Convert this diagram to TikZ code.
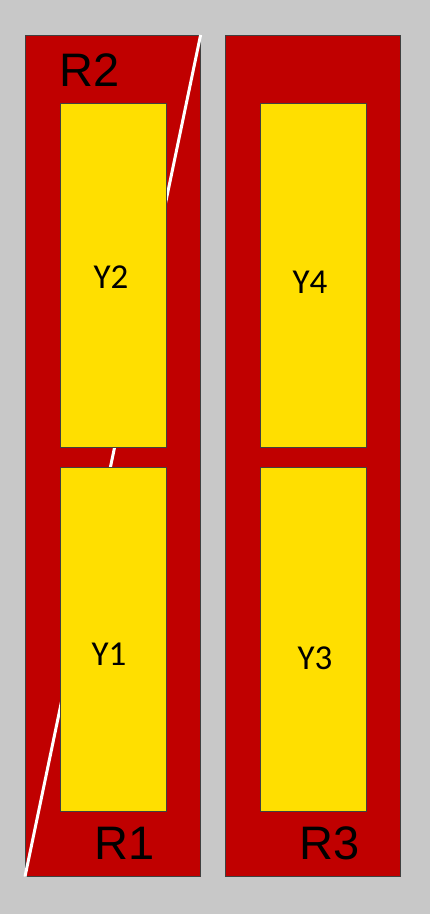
\documentclass[tikz,border=0pt]{standalone}
\usepackage{fontspec}
\setmainfont{Liberation Sans}
\newfontfamily\yfont{Carlito}
\definecolor{bggray}{HTML}{C8C8C8}
\definecolor{rred}{HTML}{C00000}
\definecolor{yyel}{HTML}{FFDF00}
\definecolor{edge}{HTML}{404040}
\begin{document}
\begin{tikzpicture}[x=1pt,y=-1pt,
  redbox/.style={draw=edge, line width=0.6pt, fill=rred, inner sep=0pt, minimum width=175pt, minimum height=841pt, anchor=north west},
  yelbox/.style={draw=edge, line width=0.6pt, fill=yyel, inner sep=0pt, minimum width=106pt, minimum height=344pt, anchor=north west},
  rlabel/.style={inner sep=0pt, font=\fontsize{47}{47}\selectfont},
  ylabel/.style={inner sep=0pt, font=\yfont\fontsize{35}{35}\selectfont},
  cut/.style={draw=white, line width=3pt}
]
\fill[bggray] (0,0) rectangle (430,914);
\useasboundingbox (0,0) rectangle (430,914);
\node[redbox] (L) at (25,35) {};
\node[redbox] (R) at (225,35) {};
\draw[cut] (L.south west) -- (L.north east);
\node[yelbox] (Y2) at (60,103) {};
\node[yelbox] (Y1) at (60,467) {};
\node[yelbox] (Y4) at (260,103) {};
\node[yelbox] (Y3) at (260,467) {};
\node[rlabel] (R2t) at (90,70) {R2};
\node[rlabel] (R1t) at (125,843.5) {R1};
\node[rlabel] (R3t) at (330,843.5) {R3};
\node[ylabel] (Y2t) at (111,277) {Y2};
\node[ylabel] (Y1t) at (109,654) {Y1};
\node[ylabel] (Y4t) at (310,282) {Y4};
\node[ylabel] (Y3t) at (315,658) {Y3};
\end{tikzpicture}
\end{document}
